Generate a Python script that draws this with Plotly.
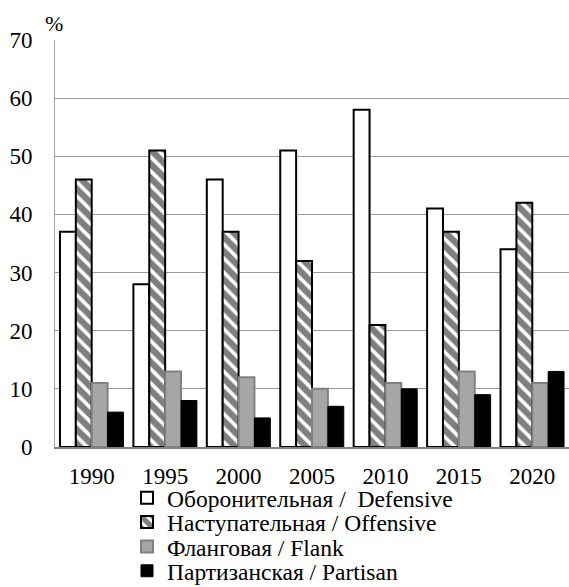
import plotly.graph_objects as go

years = ["1990", "1995", "2000", "2005", "2010", "2015", "2020"]
defensive = [37, 28, 46, 51, 58, 41, 34]
offensive = [46, 51, 37, 32, 21, 37, 42]
flank = [11, 13, 12, 10, 11, 13, 11]
partisan = [6, 8, 5, 7, 10, 9, 13]
names = ["Оборонительная /  Defensive", "Наступательная / Offensive",
         "Фланговая / Flank", "Партизанская / Partisan"]
y_ticks = [0, 10, 20, 30, 40, 50, 60, 70]

FONT = "'Liberation Serif', 'Times New Roman', Times, serif"
H = 587

fig = go.Figure()
fig.add_trace(go.Bar(x=years, y=defensive, name=names[0], legend="legend",
                     marker=dict(color="white", line=dict(color="black", width=2))))
fig.add_trace(go.Bar(x=years, y=offensive, name=names[1], legend="legend2",
                     marker=dict(color="white", line=dict(color="black", width=2),
                                 pattern=dict(shape="\\", fgcolor="black", bgcolor="white",
                                              size=10, solidity=0.65))))
fig.add_trace(go.Bar(x=years, y=flank, name=names[2], legend="legend3",
                     marker=dict(color="#a6a6a6", line=dict(color="#808080", width=2))))
fig.add_trace(go.Bar(x=years, y=partisan, name=names[3], legend="legend4",
                     marker=dict(color="black", line=dict(color="black", width=1))))

leg_rows = [498, 522.3, 546.6, 571]
leg_common = dict(x=127 / 569, xref="container", yref="container",
                  xanchor="left", yanchor="middle", orientation="v",
                  font=dict(family=FONT, size=23.5, color="black"),
                  bgcolor="rgba(0,0,0,0)", borderwidth=0, itemwidth=30)

fig.update_layout(
    width=569, height=H,
    margin=dict(l=55, r=0, t=40, b=140, autoexpand=False),
    paper_bgcolor="white", plot_bgcolor="white",
    barmode="group", bargap=0.135, bargroupgap=0,
    font=dict(family=FONT, size=22, color="black"),
    showlegend=True,
    legend=dict(y=1 - leg_rows[0] / H, **leg_common),
    legend2=dict(y=1 - leg_rows[1] / H, **leg_common),
    legend3=dict(y=1 - leg_rows[2] / H, **leg_common),
    legend4=dict(y=1 - leg_rows[3] / H, **leg_common),
    xaxis=dict(type="category", range=[-0.5, 6.5], showgrid=False,
               showline=True, linecolor="#808080", linewidth=1.5,
               ticks="", tickfont=dict(family=FONT, size=23), ticklabelstandoff=8),
    yaxis=dict(range=[0, 70], tickvals=y_ticks, showgrid=True,
               gridcolor="#999999", gridwidth=1.3, zeroline=False,
               showline=True, linecolor="#a6a6a6", linewidth=1,
               ticks="", tickfont=dict(family=FONT, size=23), ticklabelstandoff=17),
    annotations=[dict(text="%", x=(54 - 55) / 514, y=1 + (40 - 23) / 407,
                      xref="paper", yref="paper", xanchor="center", yanchor="middle",
                      showarrow=False, font=dict(family=FONT, size=22))],
)

fig.write_html("out.html")
